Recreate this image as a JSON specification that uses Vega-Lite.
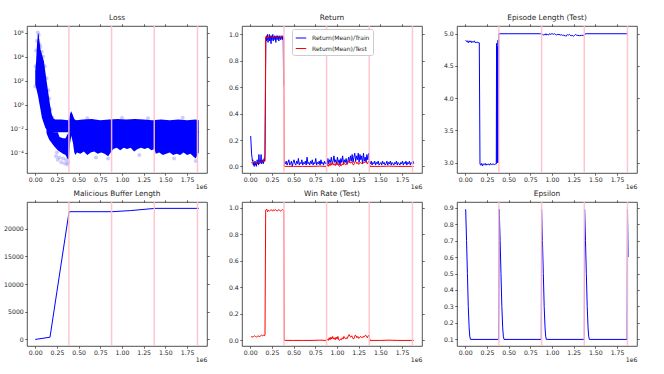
{
"$schema": "https://vega.github.io/schema/vega-lite/v6.json",
"background": "white",
"padding": {"left": 3, "top": 13, "right": 5, "bottom": 5},
"columns": 3,
"spacing": {"row": 29, "column": 35},
"bounds": "flush",
"config": {
 "font": "DejaVu Sans",
 "view": {"stroke": "#262626", "strokeWidth": 0.8},
 "axis": {"grid": false, "domain": false, "tickColor": "#262626", "tickSize": 2.2, "tickWidth": 0.7, "labelFont": "DejaVu Sans", "labelFontSize": 6.2, "labelColor": "#262626", "labelPadding": 1.5, "labelOverlap": false, "labelFlush": false, "titleFont": "DejaVu Sans", "titleFontSize": 6.2, "titleFontWeight": "normal", "titleColor": "#262626"},
 "title": {"font": "DejaVu Sans", "fontSize": 7.4, "fontWeight": "normal", "color": "#262626", "offset": 2},
 "line": {"strokeWidth": 1}
},
"datasets": {
 "vl": [{"x": 388000}, {"x": 880000}, {"x": 1372000}, {"x": 1870000}],
 "lossBand": [
  {"part":"A","x":0,"lo":50,"hi":631},
  {"part":"A","x":10000,"lo":25,"hi":3981},
  {"part":"A","x":20000,"lo":12.6,"hi":100000},
  {"part":"A","x":30000,"lo":6.3,"hi":630000},
  {"part":"A","x":38000,"lo":3.16,"hi":890000},
  {"part":"A","x":45000,"lo":1.58,"hi":316000},
  {"part":"A","x":60000,"lo":0.4,"hi":39800},
  {"part":"A","x":77000,"lo":0.079,"hi":15800},
  {"part":"A","x":100000,"lo":0.025,"hi":3981},
  {"part":"A","x":115000,"lo":0.0126,"hi":631},
  {"part":"A","x":130000,"lo":0.0079,"hi":100},
  {"part":"A","x":150000,"lo":0.005,"hi":10},
  {"part":"A","x":170000,"lo":0.005,"hi":1},
  {"part":"A","x":190000,"lo":0.005,"hi":0.158},
  {"part":"A","x":210000,"lo":0.005,"hi":0.0708},
  {"part":"A","x":230000,"lo":0.005,"hi":0.0562},
  {"part":"A","x":300000,"lo":0.005,"hi":0.0562},
  {"part":"A","x":380000,"lo":0.005,"hi":0.05},
  {"part":"A","x":390000,"lo":0.005,"hi":0.063},
  {"part":"A","x":400000,"lo":0.005,"hi":0.158},
  {"part":"A","x":415000,"lo":0.005,"hi":0.282},
  {"part":"A","x":430000,"lo":0.005,"hi":0.158},
  {"part":"A","x":450000,"lo":0.005,"hi":0.063},
  {"part":"A","x":470000,"lo":0.005,"hi":0.05},
  {"part":"A","x":550000,"lo":0.005,"hi":0.0562},
  {"part":"A","x":650000,"lo":0.005,"hi":0.063},
  {"part":"A","x":750000,"lo":0.005,"hi":0.05},
  {"part":"A","x":850000,"lo":0.005,"hi":0.0562},
  {"part":"A","x":950000,"lo":0.005,"hi":0.063},
  {"part":"A","x":1050000,"lo":0.005,"hi":0.0562},
  {"part":"A","x":1150000,"lo":0.005,"hi":0.063},
  {"part":"A","x":1250000,"lo":0.005,"hi":0.0562},
  {"part":"A","x":1350000,"lo":0.005,"hi":0.05},
  {"part":"A","x":1450000,"lo":0.005,"hi":0.0562},
  {"part":"A","x":1550000,"lo":0.005,"hi":0.05},
  {"part":"A","x":1650000,"lo":0.005,"hi":0.0562},
  {"part":"A","x":1750000,"lo":0.005,"hi":0.05},
  {"part":"A","x":1850000,"lo":0.005,"hi":0.0562},
  {"part":"A","x":1885000,"lo":0.005,"hi":0.05},
  {"part":"B","x":130000,"lo":0.004,"hi":0.0079},
  {"part":"B","x":160000,"lo":0.00126,"hi":0.0063},
  {"part":"B","x":190000,"lo":0.00063,"hi":0.0056},
  {"part":"B","x":220000,"lo":0.00032,"hi":0.005},
  {"part":"B","x":260000,"lo":0.000158,"hi":0.005},
  {"part":"B","x":280000,"lo":0.000126,"hi":0.002},
  {"part":"B","x":320000,"lo":0.000079,"hi":0.00158},
  {"part":"B","x":350000,"lo":0.000063,"hi":0.00158},
  {"part":"B","x":370000,"lo":0.000032,"hi":0.00316},
  {"part":"B","x":388000,"lo":0.000025,"hi":0.005},
  {"part":"B","x":400000,"lo":0.0005,"hi":0.0063},
  {"part":"B","x":415000,"lo":0.0025,"hi":0.0063},
  {"part":"B","x":435000,"lo":0.00063,"hi":0.0063},
  {"part":"B","x":450000,"lo":0.0001,"hi":0.0063},
  {"part":"B","x":465000,"lo":0.000063,"hi":0.0063},
  {"part":"B","x":480000,"lo":0.0001,"hi":0.0063},
  {"part":"B","x":520000,"lo":0.000079,"hi":0.0063},
  {"part":"B","x":560000,"lo":0.000126,"hi":0.0063},
  {"part":"B","x":600000,"lo":0.000063,"hi":0.0063},
  {"part":"B","x":640000,"lo":0.0001,"hi":0.0063},
  {"part":"B","x":680000,"lo":0.000126,"hi":0.0063},
  {"part":"B","x":720000,"lo":0.000079,"hi":0.0063},
  {"part":"B","x":760000,"lo":0.0001,"hi":0.0063},
  {"part":"B","x":800000,"lo":0.000079,"hi":0.0063},
  {"part":"B","x":840000,"lo":0.00005,"hi":0.0063},
  {"part":"B","x":870000,"lo":0.0001,"hi":0.0063},
  {"part":"B","x":900000,"lo":0.0002,"hi":0.0063},
  {"part":"B","x":940000,"lo":0.00025,"hi":0.0063},
  {"part":"B","x":980000,"lo":0.000158,"hi":0.0063},
  {"part":"B","x":1020000,"lo":0.00025,"hi":0.0063},
  {"part":"B","x":1060000,"lo":0.0002,"hi":0.0063},
  {"part":"B","x":1100000,"lo":0.00025,"hi":0.0063},
  {"part":"B","x":1140000,"lo":0.000126,"hi":0.0063},
  {"part":"B","x":1180000,"lo":0.0002,"hi":0.0063},
  {"part":"B","x":1220000,"lo":0.00025,"hi":0.0063},
  {"part":"B","x":1260000,"lo":0.0002,"hi":0.0063},
  {"part":"B","x":1300000,"lo":0.00025,"hi":0.0063},
  {"part":"B","x":1340000,"lo":0.000158,"hi":0.0063},
  {"part":"B","x":1375000,"lo":0.0002,"hi":0.0063},
  {"part":"B","x":1390000,"lo":0.000079,"hi":0.0063},
  {"part":"B","x":1430000,"lo":0.0001,"hi":0.0063},
  {"part":"B","x":1470000,"lo":0.000063,"hi":0.0063},
  {"part":"B","x":1510000,"lo":0.000079,"hi":0.0063},
  {"part":"B","x":1550000,"lo":0.0001,"hi":0.0063},
  {"part":"B","x":1590000,"lo":0.000063,"hi":0.0063},
  {"part":"B","x":1630000,"lo":0.000079,"hi":0.0063},
  {"part":"B","x":1670000,"lo":0.000063,"hi":0.0063},
  {"part":"B","x":1710000,"lo":0.0001,"hi":0.0063},
  {"part":"B","x":1750000,"lo":0.000063,"hi":0.0063},
  {"part":"B","x":1790000,"lo":0.000079,"hi":0.0063},
  {"part":"B","x":1820000,"lo":0.00005,"hi":0.0063},
  {"part":"B","x":1850000,"lo":0.000032,"hi":0.0063},
  {"part":"B","x":1870000,"lo":0.000063,"hi":0.0063},
  {"part":"B","x":1885000,"lo":0.0001,"hi":0.0063}
 ],
 "lossPts": [{"x":240000,"y":5.0e-5},{"x":260000,"y":2.5e-5},{"x":280000,"y":4.0e-5},{"x":300000,"y":1.6e-5},{"x":320000,"y":3.2e-5},{"x":340000,"y":1.26e-5},{"x":355000,"y":2.5e-5},{"x":370000,"y":1.0e-5},{"x":380000,"y":1.6e-5},{"x":250000,"y":1.0e-4},{"x":10000,"y":32000},{"x":20000,"y":200000},{"x":30000,"y":1000000},{"x":40000,"y":630000},{"x":50000,"y":100000},{"x":60000,"y":63000},{"x":75000,"y":25000},{"x":90000,"y":10000},{"x":110000,"y":1585},{"x":130000,"y":158},{"x":150000,"y":15.8},{"x":160000,"y":3.16},{"x":175000,"y":0.4},{"x":0,"y":31.6},{"x":5000,"y":1585},{"x":200000,"y":0.079},{"x":600000,"y":0.071},{"x":1000000,"y":0.079},{"x":1300000,"y":0.071},{"x":1700000,"y":0.079},{"x":700000,"y":4.0e-5},{"x":1200000,"y":6.3e-5},{"x":1600000,"y":3.2e-5},{"x":1850000,"y":2.0e-5},{"x":840000,"y":3.2e-5}],
 "train": [
  {"x":5000,"y":0.23,"seg":1},{"x":10000,"y":0.17,"seg":1},{"x":15000,"y":0.10,"seg":1},{"x":20000,"y":0.07,"seg":1},{"x":25000,"y":0.04,"seg":1},{"x":30000,"y":0.05,"seg":1},{"x":35000,"y":0.01,"seg":1},{"x":40000,"y":0.03,"seg":1},{"x":45000,"y":0.0,"seg":1},{"x":50000,"y":0.02,"seg":1},{"x":55000,"y":0.04,"seg":1},{"x":60000,"y":0.01,"seg":1},{"x":65000,"y":0.03,"seg":1},{"x":70000,"y":0.0,"seg":1},{"x":75000,"y":0.02,"seg":1},{"x":80000,"y":0.05,"seg":1},{"x":85000,"y":0.02,"seg":1},{"x":90000,"y":0.03,"seg":1},{"x":95000,"y":0.01,"seg":1},{"x":100000,"y":0.09,"seg":1},{"x":105000,"y":0.03,"seg":1},{"x":110000,"y":0.02,"seg":1},{"x":115000,"y":0.05,"seg":1},{"x":120000,"y":0.03,"seg":1},{"x":125000,"y":0.09,"seg":1},{"x":130000,"y":0.02,"seg":1},{"x":135000,"y":0.04,"seg":1},{"x":140000,"y":0.03,"seg":1},{"x":145000,"y":0.05,"seg":1},{"x":150000,"y":0.02,"seg":1},{"x":155000,"y":0.04,"seg":1},{"x":160000,"y":0.06,"seg":1},{"x":165000,"y":0.04,"seg":1},{"x":170000,"y":0.10,"seg":1},{"x":175000,"y":0.5,"seg":1},{"x":180000,"y":0.97,"seg":1},{"x":185000,"y":0.95,"seg":1},{"x":190000,"y":0.99,"seg":1},{"x":195000,"y":0.96,"seg":1},{"x":200000,"y":1.0,"seg":1},{"x":205000,"y":0.94,"seg":1},{"x":210000,"y":0.98,"seg":1},{"x":215000,"y":0.97,"seg":1},{"x":220000,"y":1.0,"seg":1},{"x":225000,"y":0.95,"seg":1},{"x":230000,"y":0.99,"seg":1},{"x":235000,"y":0.97,"seg":1},{"x":240000,"y":0.93,"seg":1},{"x":245000,"y":0.99,"seg":1},{"x":250000,"y":0.96,"seg":1},{"x":255000,"y":0.98,"seg":1},{"x":260000,"y":1.0,"seg":1},{"x":265000,"y":0.95,"seg":1},{"x":270000,"y":0.98,"seg":1},{"x":275000,"y":0.97,"seg":1},{"x":280000,"y":0.99,"seg":1},{"x":285000,"y":0.96,"seg":1},{"x":290000,"y":0.98,"seg":1},{"x":295000,"y":0.94,"seg":1},{"x":300000,"y":0.99,"seg":1},{"x":305000,"y":0.97,"seg":1},{"x":310000,"y":0.96,"seg":1},{"x":315000,"y":0.99,"seg":1},{"x":320000,"y":0.97,"seg":1},{"x":325000,"y":0.98,"seg":1},{"x":330000,"y":0.95,"seg":1},{"x":335000,"y":0.99,"seg":1},{"x":340000,"y":0.97,"seg":1},{"x":345000,"y":0.98,"seg":1},{"x":350000,"y":0.96,"seg":1},{"x":355000,"y":0.99,"seg":1},{"x":360000,"y":0.97,"seg":1},{"x":365000,"y":0.98,"seg":1},{"x":370000,"y":0.96,"seg":1},{"x":375000,"y":0.99,"seg":1},{"x":380000,"y":0.97,"seg":1},{"x":385000,"y":0.61,"seg":1},
  {"x":395000,"y":0.03,"seg":2},{"x":405000,"y":0.02,"seg":2},{"x":415000,"y":0.04,"seg":2},{"x":425000,"y":0.01,"seg":2},{"x":435000,"y":0.03,"seg":2},{"x":445000,"y":0.05,"seg":2},{"x":455000,"y":0.01,"seg":2},{"x":465000,"y":0.02,"seg":2},{"x":475000,"y":0.04,"seg":2},{"x":485000,"y":0.0,"seg":2},{"x":495000,"y":0.03,"seg":2},{"x":505000,"y":0.05,"seg":2},{"x":515000,"y":0.02,"seg":2},{"x":525000,"y":0.01,"seg":2},{"x":535000,"y":0.04,"seg":2},{"x":545000,"y":0.02,"seg":2},{"x":555000,"y":0.06,"seg":2},{"x":565000,"y":0.01,"seg":2},{"x":575000,"y":0.03,"seg":2},{"x":585000,"y":0.02,"seg":2},{"x":595000,"y":0.05,"seg":2},{"x":605000,"y":0.01,"seg":2},{"x":615000,"y":0.03,"seg":2},{"x":625000,"y":0.02,"seg":2},{"x":635000,"y":0.04,"seg":2},{"x":645000,"y":0.01,"seg":2},{"x":655000,"y":0.07,"seg":2},{"x":665000,"y":0.02,"seg":2},{"x":675000,"y":0.03,"seg":2},{"x":685000,"y":0.01,"seg":2},{"x":695000,"y":0.04,"seg":2},{"x":705000,"y":0.02,"seg":2},{"x":715000,"y":0.05,"seg":2},{"x":725000,"y":0.01,"seg":2},{"x":735000,"y":0.03,"seg":2},{"x":745000,"y":0.02,"seg":2},{"x":755000,"y":0.06,"seg":2},{"x":765000,"y":0.01,"seg":2},{"x":775000,"y":0.03,"seg":2},{"x":785000,"y":0.02,"seg":2},{"x":795000,"y":0.04,"seg":2},{"x":805000,"y":0.01,"seg":2},{"x":815000,"y":0.05,"seg":2},{"x":825000,"y":0.02,"seg":2},{"x":835000,"y":0.03,"seg":2},{"x":845000,"y":0.01,"seg":2},{"x":855000,"y":0.04,"seg":2},{"x":865000,"y":0.02,"seg":2},{"x":875000,"y":0.03,"seg":2},{"x":885000,"y":0.01,"seg":2},{"x":895000,"y":0.06,"seg":2},{"x":905000,"y":0.02,"seg":2},{"x":915000,"y":0.05,"seg":2},{"x":925000,"y":0.03,"seg":2},{"x":935000,"y":0.07,"seg":2},{"x":945000,"y":0.02,"seg":2},{"x":955000,"y":0.04,"seg":2},{"x":965000,"y":0.08,"seg":2},{"x":975000,"y":0.03,"seg":2},{"x":985000,"y":0.05,"seg":2},{"x":995000,"y":0.02,"seg":2},{"x":1005000,"y":0.07,"seg":2},{"x":1015000,"y":0.03,"seg":2},{"x":1025000,"y":0.05,"seg":2},{"x":1035000,"y":0.01,"seg":2},{"x":1045000,"y":0.06,"seg":2},{"x":1055000,"y":0.03,"seg":2},{"x":1065000,"y":0.08,"seg":2},{"x":1075000,"y":0.02,"seg":2},{"x":1085000,"y":0.05,"seg":2},{"x":1095000,"y":0.03,"seg":2},{"x":1105000,"y":0.06,"seg":2},{"x":1115000,"y":0.02,"seg":2},{"x":1125000,"y":0.04,"seg":2},{"x":1135000,"y":0.07,"seg":2},{"x":1145000,"y":0.03,"seg":2},{"x":1155000,"y":0.08,"seg":2},{"x":1165000,"y":0.04,"seg":2},{"x":1175000,"y":0.09,"seg":2},{"x":1185000,"y":0.03,"seg":2},{"x":1195000,"y":0.07,"seg":2},{"x":1205000,"y":0.10,"seg":2},{"x":1215000,"y":0.04,"seg":2},{"x":1225000,"y":0.08,"seg":2},{"x":1235000,"y":0.05,"seg":2},{"x":1245000,"y":0.10,"seg":2},{"x":1255000,"y":0.03,"seg":2},{"x":1265000,"y":0.09,"seg":2},{"x":1275000,"y":0.05,"seg":2},{"x":1285000,"y":0.08,"seg":2},{"x":1295000,"y":0.02,"seg":2},{"x":1305000,"y":0.10,"seg":2},{"x":1315000,"y":0.04,"seg":2},{"x":1325000,"y":0.07,"seg":2},{"x":1335000,"y":0.03,"seg":2},{"x":1345000,"y":0.09,"seg":2},{"x":1355000,"y":0.05,"seg":2},{"x":1365000,"y":0.10,"seg":2},{"x":1375000,"y":0.03,"seg":2},{"x":1385000,"y":0.02,"seg":2},{"x":1395000,"y":0.04,"seg":2},{"x":1405000,"y":0.01,"seg":2},{"x":1415000,"y":0.03,"seg":2},{"x":1425000,"y":0.02,"seg":2},{"x":1435000,"y":0.04,"seg":2},{"x":1445000,"y":0.01,"seg":2},{"x":1455000,"y":0.03,"seg":2},{"x":1465000,"y":0.02,"seg":2},{"x":1475000,"y":0.04,"seg":2},{"x":1485000,"y":0.01,"seg":2},{"x":1495000,"y":0.02,"seg":2},{"x":1505000,"y":0.03,"seg":2},{"x":1515000,"y":0.01,"seg":2},{"x":1525000,"y":0.04,"seg":2},{"x":1535000,"y":0.02,"seg":2},{"x":1545000,"y":0.03,"seg":2},{"x":1555000,"y":0.01,"seg":2},{"x":1565000,"y":0.02,"seg":2},{"x":1575000,"y":0.04,"seg":2},{"x":1585000,"y":0.01,"seg":2},{"x":1595000,"y":0.03,"seg":2},{"x":1605000,"y":0.02,"seg":2},{"x":1615000,"y":0.04,"seg":2},{"x":1625000,"y":0.01,"seg":2},{"x":1635000,"y":0.03,"seg":2},{"x":1645000,"y":0.02,"seg":2},{"x":1655000,"y":0.01,"seg":2},{"x":1665000,"y":0.03,"seg":2},{"x":1675000,"y":0.02,"seg":2},{"x":1685000,"y":0.04,"seg":2},{"x":1695000,"y":0.01,"seg":2},{"x":1705000,"y":0.03,"seg":2},{"x":1715000,"y":0.02,"seg":2},{"x":1725000,"y":0.01,"seg":2},{"x":1735000,"y":0.03,"seg":2},{"x":1745000,"y":0.02,"seg":2},{"x":1755000,"y":0.04,"seg":2},{"x":1765000,"y":0.01,"seg":2},{"x":1775000,"y":0.03,"seg":2},{"x":1785000,"y":0.02,"seg":2},{"x":1795000,"y":0.04,"seg":2},{"x":1805000,"y":0.01,"seg":2},{"x":1815000,"y":0.03,"seg":2},{"x":1825000,"y":0.02,"seg":2},{"x":1835000,"y":0.04,"seg":2},{"x":1845000,"y":0.01,"seg":2},{"x":1855000,"y":0.03,"seg":2},{"x":1865000,"y":0.02,"seg":2},{"x":1875000,"y":0.04,"seg":2},{"x":1885000,"y":0.02,"seg":2}
 ],
 "test": [
  {"x":10000,"y":0.025},{"x":20000,"y":0.03},{"x":30000,"y":0.025},{"x":40000,"y":0.03},{"x":50000,"y":0.035},{"x":60000,"y":0.03},{"x":70000,"y":0.025},{"x":80000,"y":0.03},{"x":90000,"y":0.035},{"x":100000,"y":0.03},{"x":110000,"y":0.03},{"x":120000,"y":0.035},{"x":130000,"y":0.04},{"x":140000,"y":0.035},{"x":150000,"y":0.04},{"x":160000,"y":0.035},{"x":170000,"y":0.04},{"x":178000,"y":0.98},{"x":190000,"y":0.99},{"x":200000,"y":0.97},{"x":210000,"y":0.98},{"x":220000,"y":0.975},{"x":230000,"y":0.98},{"x":240000,"y":0.985},{"x":250000,"y":0.98},{"x":260000,"y":0.975},{"x":270000,"y":0.985},{"x":280000,"y":0.98},{"x":290000,"y":0.985},{"x":300000,"y":0.98},{"x":310000,"y":0.975},{"x":320000,"y":0.98},{"x":330000,"y":0.985},{"x":340000,"y":0.98},{"x":350000,"y":0.975},{"x":360000,"y":0.98},{"x":370000,"y":0.985},{"x":386000,"y":0.98},{"x":392000,"y":0.0},{"x":500000,"y":0.0},{"x":600000,"y":0.0},{"x":700000,"y":0.0},{"x":800000,"y":0.002},{"x":880000,"y":0.0},
  {"x":890000,"y":0.01},{"x":900000,"y":0.0},{"x":910000,"y":0.02},{"x":920000,"y":0.005},{"x":930000,"y":0.025},{"x":940000,"y":0.01},{"x":950000,"y":0.03},{"x":960000,"y":0.01},{"x":970000,"y":0.02},{"x":980000,"y":0.005},{"x":990000,"y":0.025},{"x":1000000,"y":0.01},{"x":1010000,"y":0.03},{"x":1020000,"y":0.005},{"x":1030000,"y":0.0},{"x":1040000,"y":0.01},{"x":1050000,"y":0.005},{"x":1060000,"y":0.02},{"x":1070000,"y":0.01},{"x":1080000,"y":0.03},{"x":1090000,"y":0.02},{"x":1100000,"y":0.01},{"x":1110000,"y":0.02},{"x":1120000,"y":0.015},{"x":1130000,"y":0.035},{"x":1140000,"y":0.045},{"x":1150000,"y":0.03},{"x":1160000,"y":0.025},{"x":1170000,"y":0.035},{"x":1180000,"y":0.02},{"x":1190000,"y":0.01},{"x":1200000,"y":0.02},{"x":1210000,"y":0.04},{"x":1220000,"y":0.035},{"x":1230000,"y":0.02},{"x":1240000,"y":0.03},{"x":1250000,"y":0.015},{"x":1260000,"y":0.02},{"x":1270000,"y":0.03},{"x":1280000,"y":0.025},{"x":1290000,"y":0.02},{"x":1300000,"y":0.03},{"x":1310000,"y":0.025},{"x":1320000,"y":0.035},{"x":1330000,"y":0.04},{"x":1340000,"y":0.03},{"x":1350000,"y":0.02},{"x":1360000,"y":0.035},{"x":1370000,"y":0.04},{"x":1380000,"y":0.0},{"x":1500000,"y":0.0},{"x":1600000,"y":0.002},{"x":1700000,"y":0.0},{"x":1885000,"y":0.0}
 ],
 "ep": [
  {"x":5000,"y":4.90},{"x":15000,"y":4.88},{"x":25000,"y":4.89},{"x":35000,"y":4.86},{"x":45000,"y":4.89},{"x":55000,"y":4.87},{"x":65000,"y":4.89},{"x":75000,"y":4.86},{"x":85000,"y":4.88},{"x":95000,"y":4.87},{"x":105000,"y":4.89},{"x":115000,"y":4.86},{"x":125000,"y":4.87},{"x":135000,"y":4.86},{"x":145000,"y":4.87},{"x":155000,"y":4.86},{"x":162000,"y":4.86},{"x":170000,"y":2.98},{"x":180000,"y":2.96},{"x":190000,"y":2.99},{"x":200000,"y":2.95},{"x":210000,"y":2.98},{"x":220000,"y":2.97},{"x":230000,"y":2.99},{"x":240000,"y":2.96},{"x":250000,"y":2.98},{"x":260000,"y":2.97},{"x":270000,"y":2.98},{"x":280000,"y":2.96},{"x":290000,"y":2.99},{"x":300000,"y":2.97},{"x":310000,"y":2.98},{"x":320000,"y":2.97},{"x":330000,"y":2.98},{"x":340000,"y":2.97},{"x":350000,"y":2.98},{"x":358000,"y":2.98},{"x":361000,"y":4.85},{"x":366000,"y":3.0},{"x":370000,"y":4.8},{"x":374000,"y":3.0},{"x":378000,"y":4.9},{"x":382000,"y":3.0},{"x":386000,"y":5.0},{"x":500000,"y":5.0},{"x":700000,"y":5.0},{"x":870000,"y":5.0},
  {"x":890000,"y":4.99},{"x":900000,"y":4.98},{"x":910000,"y":4.99},{"x":920000,"y":4.98},{"x":930000,"y":5.0},{"x":940000,"y":4.98},{"x":950000,"y":4.99},{"x":960000,"y":4.98},{"x":970000,"y":5.0},{"x":980000,"y":4.99},{"x":990000,"y":5.0},{"x":1000000,"y":4.995},{"x":1010000,"y":5.0},{"x":1020000,"y":4.99},{"x":1030000,"y":5.0},{"x":1040000,"y":4.99},{"x":1050000,"y":4.98},{"x":1060000,"y":4.99},{"x":1070000,"y":4.985},{"x":1080000,"y":4.99},{"x":1100000,"y":4.98},{"x":1110000,"y":4.985},{"x":1120000,"y":4.975},{"x":1130000,"y":4.98},{"x":1140000,"y":4.97},{"x":1150000,"y":4.975},{"x":1160000,"y":4.96},{"x":1170000,"y":4.98},{"x":1180000,"y":4.985},{"x":1190000,"y":4.98},{"x":1200000,"y":4.99},{"x":1210000,"y":4.98},{"x":1220000,"y":4.965},{"x":1230000,"y":4.975},{"x":1240000,"y":4.97},{"x":1250000,"y":4.96},{"x":1260000,"y":4.975},{"x":1270000,"y":4.99},{"x":1280000,"y":4.98},{"x":1290000,"y":4.975},{"x":1300000,"y":4.975},{"x":1320000,"y":4.97},{"x":1340000,"y":4.975},{"x":1360000,"y":4.975},{"x":1375000,"y":4.98},{"x":1385000,"y":5.0},{"x":1600000,"y":5.0},{"x":1875000,"y":5.0}
 ],
 "buf": [{"x":0,"y":0},{"x":170000,"y":400},{"x":390000,"y":23050},{"x":885000,"y":23050},{"x":1100000,"y":23250},{"x":1380000,"y":23650},{"x":1885000,"y":23650}],
 "eps": [
  {"x":5000,"y":0.89},{"x":15000,"y":0.70},{"x":25000,"y":0.50},{"x":35000,"y":0.30},{"x":45000,"y":0.17},{"x":52000,"y":0.12},{"x":60000,"y":0.10},{"x":385000,"y":0.10},
  {"x":392000,"y":0.89},{"x":402000,"y":0.70},{"x":412000,"y":0.50},{"x":422000,"y":0.30},{"x":432000,"y":0.17},{"x":439000,"y":0.12},{"x":447000,"y":0.10},{"x":877000,"y":0.10},
  {"x":880000,"y":0.89},{"x":890000,"y":0.70},{"x":900000,"y":0.50},{"x":910000,"y":0.30},{"x":920000,"y":0.17},{"x":927000,"y":0.12},{"x":935000,"y":0.10},{"x":1373000,"y":0.10},
  {"x":1376000,"y":0.89},{"x":1386000,"y":0.70},{"x":1396000,"y":0.50},{"x":1406000,"y":0.30},{"x":1416000,"y":0.17},{"x":1423000,"y":0.12},{"x":1431000,"y":0.10},{"x":1866000,"y":0.10},
  {"x":1870000,"y":0.89},{"x":1878000,"y":0.60}
 ]
},
"concat": [
 {
  "width": 180, "height": 147, "title": "Loss",
  "layer": [
   {"data": {"name": "lossBand"}, "mark": {"type": "area", "color": "#0000ff", "opacity": 1},
    "encoding": {
     "x": {"field": "x", "type": "quantitative", "scale": {"domain": [-95000, 1980000], "nice": false, "zero": false},
           "axis": {"values": [0,250000,500000,750000,1000000,1250000,1500000,1750000], "labelExpr": "format(datum.value/1e6,'.2f')", "title": "1e6", "titleAnchor": "end", "titlePadding": 1}},
     "y": {"field": "hi", "type": "quantitative", "scale": {"type": "log", "domain": [2e-6, 3.5e6], "nice": false},
           "axis": {"values": [0.0001, 0.01, 1, 100, 10000, 1000000], "title": null, "labelExpr": "datum.value >= 1e5 ? '10⁶' : datum.value >= 1e3 ? '10⁴' : datum.value >= 10 ? '10²' : datum.value >= 0.1 ? '10⁰' : datum.value >= 1e-3 ? '10⁻²' : '10⁻⁴'"}},
     "y2": {"field": "lo"},
     "detail": {"field": "part"}
    }},
   {"data": {"name": "lossPts"}, "mark": {"type": "circle", "color": "#0000ff", "opacity": 0.2, "size": 16},
    "encoding": {
     "x": {"field": "x", "type": "quantitative", "axis": null},
     "y": {"field": "y", "type": "quantitative", "scale": {"type": "log"}, "axis": {"orient": "right", "values": [0.0001, 0.01, 1, 100, 10000, 1000000], "labels": false, "title": null}}
    }},
   {"data": {"name": "vl"}, "mark": {"type": "rule", "color": "#ffc0cb", "strokeWidth": 1.5, "opacity": 0.9},
    "encoding": {"x": {"field": "x", "type": "quantitative", "axis": {"orient": "top", "values": [0,250000,500000,750000,1000000,1250000,1500000,1750000], "labels": false, "title": null}}}}
  ],
  "resolve": {"axis": {"x": "independent", "y": "independent"}}
 },
 {
  "width": 180, "height": 147, "title": "Return",
  "layer": [
   {"data": {"name": "train"}, "mark": {"type": "line", "strokeWidth": 1},
    "encoding": {
     "x": {"field": "x", "type": "quantitative", "scale": {"domain": [-95000, 1980000], "nice": false, "zero": false},
           "axis": {"values": [0,250000,500000,750000,1000000,1250000,1500000,1750000], "labelExpr": "format(datum.value/1e6,'.2f')", "title": "1e6", "titleAnchor": "end", "titlePadding": 1}},
     "y": {"field": "y", "type": "quantitative", "scale": {"domain": [-0.05, 1.064], "nice": false, "zero": false},
           "axis": {"values": [0, 0.2, 0.4, 0.6, 0.8, 1.0], "format": ".1f", "title": null}},
     "color": {"datum": "Return(Mean)/Train", "type": "nominal",
               "scale": {"domain": ["Return(Mean)/Train", "Return(Mean)/Test"], "range": ["#0000ff", "#ff0000"]},
               "legend": {"orient": "none", "legendX": 50, "legendY": 3, "title": null, "symbolType": "stroke", "symbolSize": 110, "symbolStrokeWidth": 1.2, "labelFontSize": 6.0, "labelFont": "DejaVu Sans", "labelColor": "#262626", "fillColor": "white", "strokeColor": "#cccccc", "padding": 3, "rowPadding": 1.5, "cornerRadius": 2, "labelOffset": 5}},
     "detail": {"field": "seg"}
    }},
   {"data": {"name": "test"}, "mark": {"type": "line", "strokeWidth": 1},
    "encoding": {
     "x": {"field": "x", "type": "quantitative", "axis": null},
     "y": {"field": "y", "type": "quantitative", "axis": {"orient": "right", "values": [0, 0.2, 0.4, 0.6, 0.8, 1.0], "labels": false, "title": null}},
     "color": {"datum": "Return(Mean)/Test", "type": "nominal"}
    }},
   {"data": {"name": "vl"}, "mark": {"type": "rule", "color": "#ffc0cb", "strokeWidth": 1.5, "opacity": 0.9},
    "encoding": {"x": {"field": "x", "type": "quantitative", "axis": {"orient": "top", "values": [0,250000,500000,750000,1000000,1250000,1500000,1750000], "labels": false, "title": null}}}}
  ],
  "resolve": {"axis": {"x": "independent", "y": "independent"}}
 },
 {
  "width": 180, "height": 147, "title": "Episode Length (Test)",
  "layer": [
   {"data": {"name": "ep"}, "mark": {"type": "line", "color": "#0000ff", "strokeWidth": 1},
    "encoding": {
     "x": {"field": "x", "type": "quantitative", "scale": {"domain": [-95000, 1980000], "nice": false, "zero": false},
           "axis": {"values": [0,250000,500000,750000,1000000,1250000,1500000,1750000], "labelExpr": "format(datum.value/1e6,'.2f')", "title": "1e6", "titleAnchor": "end", "titlePadding": 1}},
     "y": {"field": "y", "type": "quantitative", "scale": {"domain": [2.84, 5.12], "nice": false, "zero": false},
           "axis": {"values": [3.0, 3.5, 4.0, 4.5, 5.0], "format": ".1f", "title": null}}
    }},
   {"data": {"name": "ep"}, "mark": {"type": "point", "opacity": 0},
    "encoding": {
     "x": {"field": "x", "type": "quantitative", "axis": null},
     "y": {"field": "y", "type": "quantitative", "axis": {"orient": "right", "values": [3.0, 3.5, 4.0, 4.5, 5.0], "labels": false, "title": null}}
    }},
   {"data": {"name": "vl"}, "mark": {"type": "rule", "color": "#ffc0cb", "strokeWidth": 1.5, "opacity": 0.9},
    "encoding": {"x": {"field": "x", "type": "quantitative", "axis": {"orient": "top", "values": [0,250000,500000,750000,1000000,1250000,1500000,1750000], "labels": false, "title": null}}}}
  ],
  "resolve": {"axis": {"x": "independent", "y": "independent"}}
 },
 {
  "width": 180, "height": 144, "title": "Malicious Buffer Length",
  "layer": [
   {"data": {"name": "buf"}, "mark": {"type": "line", "color": "#0000ff", "strokeWidth": 1},
    "encoding": {
     "x": {"field": "x", "type": "quantitative", "scale": {"domain": [-95000, 1980000], "nice": false, "zero": false},
           "axis": {"values": [0,250000,500000,750000,1000000,1250000,1500000,1750000], "labelExpr": "format(datum.value/1e6,'.2f')", "title": "1e6", "titleAnchor": "end", "titlePadding": 1}},
     "y": {"field": "y", "type": "quantitative", "scale": {"domain": [-1185, 24800], "nice": false, "zero": false},
           "axis": {"values": [0, 5000, 10000, 15000, 20000], "format": "d", "title": null}}
    }},
   {"data": {"name": "buf"}, "mark": {"type": "point", "opacity": 0},
    "encoding": {
     "x": {"field": "x", "type": "quantitative", "axis": null},
     "y": {"field": "y", "type": "quantitative", "axis": {"orient": "right", "values": [0, 5000, 10000, 15000, 20000], "labels": false, "title": null}}
    }},
   {"data": {"name": "vl"}, "mark": {"type": "rule", "color": "#ffc0cb", "strokeWidth": 1.5, "opacity": 0.9},
    "encoding": {"x": {"field": "x", "type": "quantitative", "axis": {"orient": "top", "values": [0,250000,500000,750000,1000000,1250000,1500000,1750000], "labels": false, "title": null}}}}
  ],
  "resolve": {"axis": {"x": "independent", "y": "independent"}}
 },
 {
  "width": 180, "height": 144, "title": "Win Rate (Test)",
  "layer": [
   {"data": {"name": "test"}, "mark": {"type": "line", "color": "#ff0000", "strokeWidth": 1},
    "encoding": {
     "x": {"field": "x", "type": "quantitative", "scale": {"domain": [-95000, 1980000], "nice": false, "zero": false},
           "axis": {"values": [0,250000,500000,750000,1000000,1250000,1500000,1750000], "labelExpr": "format(datum.value/1e6,'.2f')", "title": "1e6", "titleAnchor": "end", "titlePadding": 1}},
     "y": {"field": "y", "type": "quantitative", "scale": {"domain": [-0.042, 1.043], "nice": false, "zero": false},
           "axis": {"values": [0, 0.2, 0.4, 0.6, 0.8, 1.0], "format": ".1f", "title": null}}
    }},
   {"data": {"name": "test"}, "mark": {"type": "point", "opacity": 0},
    "encoding": {
     "x": {"field": "x", "type": "quantitative", "axis": null},
     "y": {"field": "y", "type": "quantitative", "axis": {"orient": "right", "values": [0, 0.2, 0.4, 0.6, 0.8, 1.0], "labels": false, "title": null}}
    }},
   {"data": {"name": "vl"}, "mark": {"type": "rule", "color": "#ffc0cb", "strokeWidth": 1.5, "opacity": 0.9},
    "encoding": {"x": {"field": "x", "type": "quantitative", "axis": {"orient": "top", "values": [0,250000,500000,750000,1000000,1250000,1500000,1750000], "labels": false, "title": null}}}}
  ],
  "resolve": {"axis": {"x": "independent", "y": "independent"}}
 },
 {
  "width": 180, "height": 144, "title": "Epsilon",
  "layer": [
   {"data": {"name": "eps"}, "mark": {"type": "line", "color": "#0000ff", "strokeWidth": 1},
    "encoding": {
     "x": {"field": "x", "type": "quantitative", "scale": {"domain": [-95000, 1980000], "nice": false, "zero": false},
           "axis": {"values": [0,250000,500000,750000,1000000,1250000,1500000,1750000], "labelExpr": "format(datum.value/1e6,'.2f')", "title": "1e6", "titleAnchor": "end", "titlePadding": 1}},
     "y": {"field": "y", "type": "quantitative", "scale": {"domain": [0.06, 0.934], "nice": false, "zero": false},
           "axis": {"values": [0.1, 0.2, 0.3, 0.4, 0.5, 0.6, 0.7, 0.8, 0.9], "format": ".1f", "title": null}}
    }},
   {"data": {"name": "eps"}, "mark": {"type": "point", "opacity": 0},
    "encoding": {
     "x": {"field": "x", "type": "quantitative", "axis": null},
     "y": {"field": "y", "type": "quantitative", "axis": {"orient": "right", "values": [0.1, 0.2, 0.3, 0.4, 0.5, 0.6, 0.7, 0.8, 0.9], "labels": false, "title": null}}
    }},
   {"data": {"name": "vl"}, "mark": {"type": "rule", "color": "#ffc0cb", "strokeWidth": 1.5, "opacity": 0.9},
    "encoding": {"x": {"field": "x", "type": "quantitative", "axis": {"orient": "top", "values": [0,250000,500000,750000,1000000,1250000,1500000,1750000], "labels": false, "title": null}}}}
  ],
  "resolve": {"axis": {"x": "independent", "y": "independent"}}
 }
],
"resolve": {"legend": {"color": "independent"}}
}
